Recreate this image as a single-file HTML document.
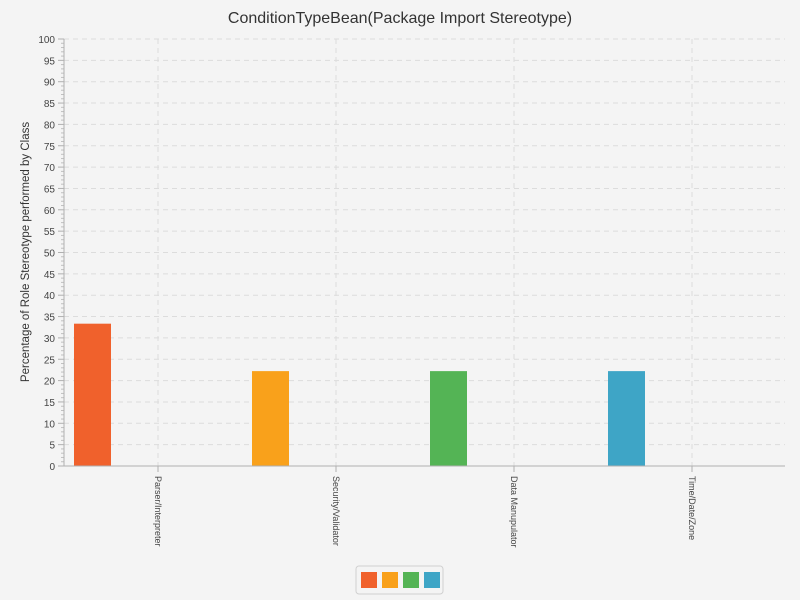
<!DOCTYPE html>
<html><head><meta charset="utf-8"><style>
html,body{margin:0;overflow:hidden;width:800px;height:600px;background:#f4f4f4;font-family:"Liberation Sans",sans-serif}
svg{display:block}
</style></head><body>
<svg id="chart" width="800" height="600" xmlns="http://www.w3.org/2000/svg">
<rect width="800" height="600" fill="#f4f4f4"/>
<text x="400" y="23" text-anchor="middle" font-size="16" fill="#333">ConditionTypeBean(Package Import Stereotype)</text>
<text transform="translate(29,252) rotate(-90)" text-anchor="middle" font-size="11.5" fill="#333">Percentage of Role Stereotype performed by Class</text>
<g id="grid"></g><g id="yaxis"></g><g id="bars"></g><g id="xaxis"></g>
<rect x="356" y="566" width="87" height="28" rx="3" fill="#f4f4f4" stroke="#d0d0d0"/>
<g id="legend"></g>
</svg>
<script>
const categories=["Parser/Interpreter","Security/Validator","Data Manupulator","Time/Date/Zone"];
const values=[33.33,22.22,22.22,22.22];
const colors=["#f0612c","#f9a11b","#54b455","#3ea5c6"];
const yTicks=[0,5,10,15,20,25,30,35,40,45,50,55,60,65,70,75,80,85,90,95,100];
const NS="http://www.w3.org/2000/svg";
const x0=64,x1=785,cat0=69,catW=178,yTop=39,yBot=466;
function y(v){return yBot-(v/100)*(yBot-yTop);}
function xc(i){return cat0+catW*(i+0.5);}
function mk(t,a,p){const e=document.createElementNS(NS,t);for(const k in a)e.setAttribute(k,a[k]);p.appendChild(e);return e;}
const grid=document.getElementById('grid'),ya=document.getElementById('yaxis'),bars=document.getElementById('bars'),xa=document.getElementById('xaxis'),lg=document.getElementById('legend');
yTicks.forEach(t=>{
 if(t>0){const g=mk('line',{x1:x0,x2:x1,y1:y(t),y2:y(t),stroke:'#dcdcdc','stroke-dasharray':'5,4'},grid);}
 mk('line',{x1:x0-6,x2:x0,y1:y(t),y2:y(t),stroke:'#b0b0b0'},ya);
 const tx=mk('text',{x:x0-9,y:y(t)+4,'text-anchor':'end','font-size':'10',fill:'#444'},ya);tx.textContent=t;
 
 if(t<100)for(let k=1;k<5;k++){const yy=y(t+k);mk('line',{x1:x0-3,x2:x0,y1:yy,y2:yy,stroke:'#c0c0c0'},ya);}
});
mk('line',{x1:x0,x2:x0,y1:yTop,y2:yBot,stroke:'#b0b0b0'},ya);
categories.forEach((c,i)=>{
 const g=mk('line',{x1:xc(i),x2:xc(i),y1:yTop,y2:yBot,stroke:'#dcdcdc','stroke-dasharray':'5,4'},grid);
 
 const bx=cat0+catW*i+5;
 const b=mk('rect',{x:bx,y:y(values[i]),width:37,height:yBot-y(values[i]),fill:colors[i]},bars);
 
 
 mk('line',{x1:xc(i),x2:xc(i),y1:yBot,y2:yBot+6,stroke:'#b0b0b0'},xa);
 const t=mk('text',{transform:`translate(${xc(i)-3},${yBot+10}) rotate(90)`,'font-size':'9',fill:'#444'},xa);t.textContent=c;
 
 const s=mk('rect',{x:361+i*21,y:572,width:16,height:16,fill:colors[i]},lg);
 
});
mk('line',{x1:x0,x2:x1,y1:yBot,y2:yBot,stroke:'#b0b0b0'},xa);
</script>
</body></html>
